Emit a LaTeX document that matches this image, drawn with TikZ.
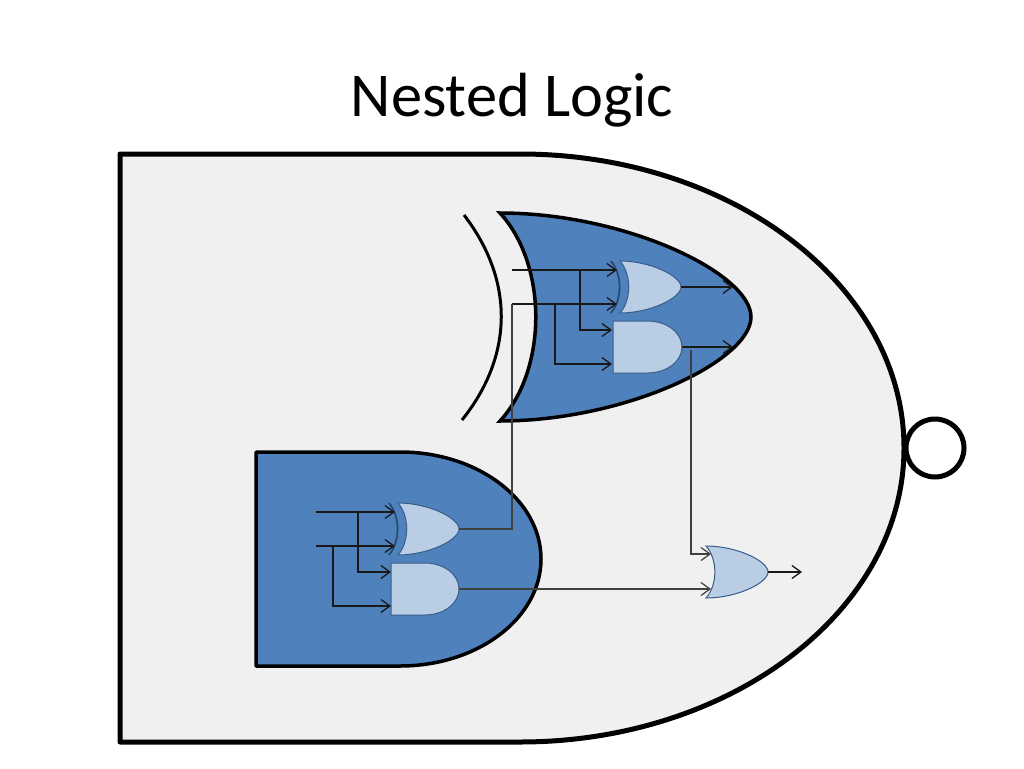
\documentclass[tikz,border=0pt]{standalone}
\usepackage{fontspec}
\setmainfont{Carlito}
\usetikzlibrary{arrows.meta}
\definecolor{gateblue}{HTML}{4F81BD}
\definecolor{gatelight}{HTML}{B9CDE5}
\definecolor{gateedge}{HTML}{385D8A}
\definecolor{baredge}{HTML}{24466F}
\definecolor{panelgrey}{HTML}{F0F0F0}

\begin{document}
\begin{tikzpicture}[x=1pt,y=-1pt]
 \tikzset{barb/.style={-{Straight Barb[length=9pt,width=13pt]}}}
 \tikzset{wire/.style={line width=1.3pt,black!90,barb}}
 \tikzset{link/.style={line width=1.2pt,black!75}}
 \tikzset{biggate/.style={draw=black,line width=5pt,line join=round,fill=panelgrey}}
 \tikzset{midgate/.style={draw=black,line width=3.5pt,line join=miter,fill=gateblue}}
 \tikzset{smallgate/.style={draw=gateedge,line width=1pt,fill=gatelight}}
 \tikzset{orbody/.pic={\path[pic actions] (0,-1) .. controls (.5,-1) and (1,-.42) .. (1,0) .. controls (1,.42) and (.5,1) .. (0,1) .. controls (.19,.5) and (.19,-.5) .. (0,-1) -- cycle;}}
 \tikzset{xorbar/.pic={\path[pic actions] (-.15,-1) .. controls (.04,-.5) and (.04,.5) .. (-.15,1);}}
 \tikzset{andbody/.pic={\path[pic actions] (0,-1) -- (.5,-1) .. controls (.78,-1) and (1,-.55) .. (1,0) .. controls (1,.55) and (.78,1) .. (.5,1) -- (0,1) -- cycle;}}
 \useasboundingbox (0,0) rectangle (1024,768);

 \node (title) at (512,100) {\fontsize{62.4}{70}\selectfont Nested Logic};

 % outer gate
 \draw[biggate] (120,154) -- (520,154) .. controls (732,154) and (904,286) .. (904,448) .. controls (904,610) and (732,742) .. (520,742) -- (120,742) -- cycle;
 \node[circle,draw=black,line width=5pt,fill=white,minimum size=58pt,inner sep=0pt] (bubble) at (935,448) {};

 % upper block
 \pic[midgate,xscale=251,yscale=104] (upperor) at (500,317) {orbody};
 \draw[black,line width=3pt] (464,215) .. controls (514,280) and (514,355) .. (462,420);
 \pic[draw=baredge,line width=1.6pt,xscale=61,yscale=26] (upperbar) at (620,287) {xorbar};
 \pic[smallgate,xscale=61,yscale=26] (upperxor) at (620,287) {orbody};
 \pic[smallgate,xscale=69,yscale=26] (upperand) at (613,347) {andbody};

 % lower block
 \draw[midgate,line join=round] (256,452) -- (400,452) .. controls (478,452) and (541,500) .. (541,559) .. controls (541,618) and (478,666) .. (400,666) -- (256,666) -- cycle;
 \pic[draw=baredge,line width=1.6pt,xscale=61,yscale=26] (lowerbar) at (398,529) {xorbar};
 \pic[smallgate,xscale=61,yscale=26] (lowerxor) at (398,529) {orbody};
 \pic[smallgate,xscale=68,yscale=26] (lowerand) at (391,589) {andbody};

 % last gate
 \pic[smallgate,xscale=62,yscale=26] (lastor) at (706,572) {orbody};

 \coordinate (ua) at (512,270);
 \coordinate (ub) at (512,304);
 \coordinate (uaj) at (580,270);
 \coordinate (ubj) at (555,304);
 \coordinate (uxa) at (617,270);
 \coordinate (uxb) at (617,304);
 \coordinate (una) at (612,330);
 \coordinate (unb) at (612,364);
 \coordinate (uxo) at (681,287);
 \coordinate (uno) at (682,347);
 \coordinate (uxe) at (733,287);
 \coordinate (une) at (733,347);
 \draw[wire] (ua) -- (uxa);
 \draw[wire] (ub) -- (uxb);
 \draw[wire] (uaj) |- (una);
 \draw[wire] (ubj) |- (unb);
 \draw[wire] (uxo) -- (uxe);
 \draw[wire] (uno) -- (une);

 \coordinate (la) at (316,512);
 \coordinate (lb) at (316,546);
 \coordinate (laj) at (358,512);
 \coordinate (lbj) at (333,546);
 \coordinate (lxa) at (395,512);
 \coordinate (lxb) at (395,546);
 \coordinate (lna) at (391,572);
 \coordinate (lnb) at (391,606);
 \coordinate (lxo) at (459,529);
 \coordinate (lno) at (459,589);
 \draw[wire] (la) -- (lxa);
 \draw[wire] (lb) -- (lxb);
 \draw[wire] (laj) |- (lna);
 \draw[wire] (lbj) |- (lnb);

 \coordinate (upout) at (691,350);
 \coordinate (lora) at (711,554);
 \coordinate (lorb) at (711,589);
 \coordinate (loro) at (768,572);
 \coordinate (lore) at (802,572);
 \draw[link] (lxo) -| (ub);
 \draw[link,barb] (lno) -- (lorb);
 \draw[link,barb] (upout) |- (lora);
 \draw[wire] (loro) -- (lore);
\end{tikzpicture}
\end{document}
